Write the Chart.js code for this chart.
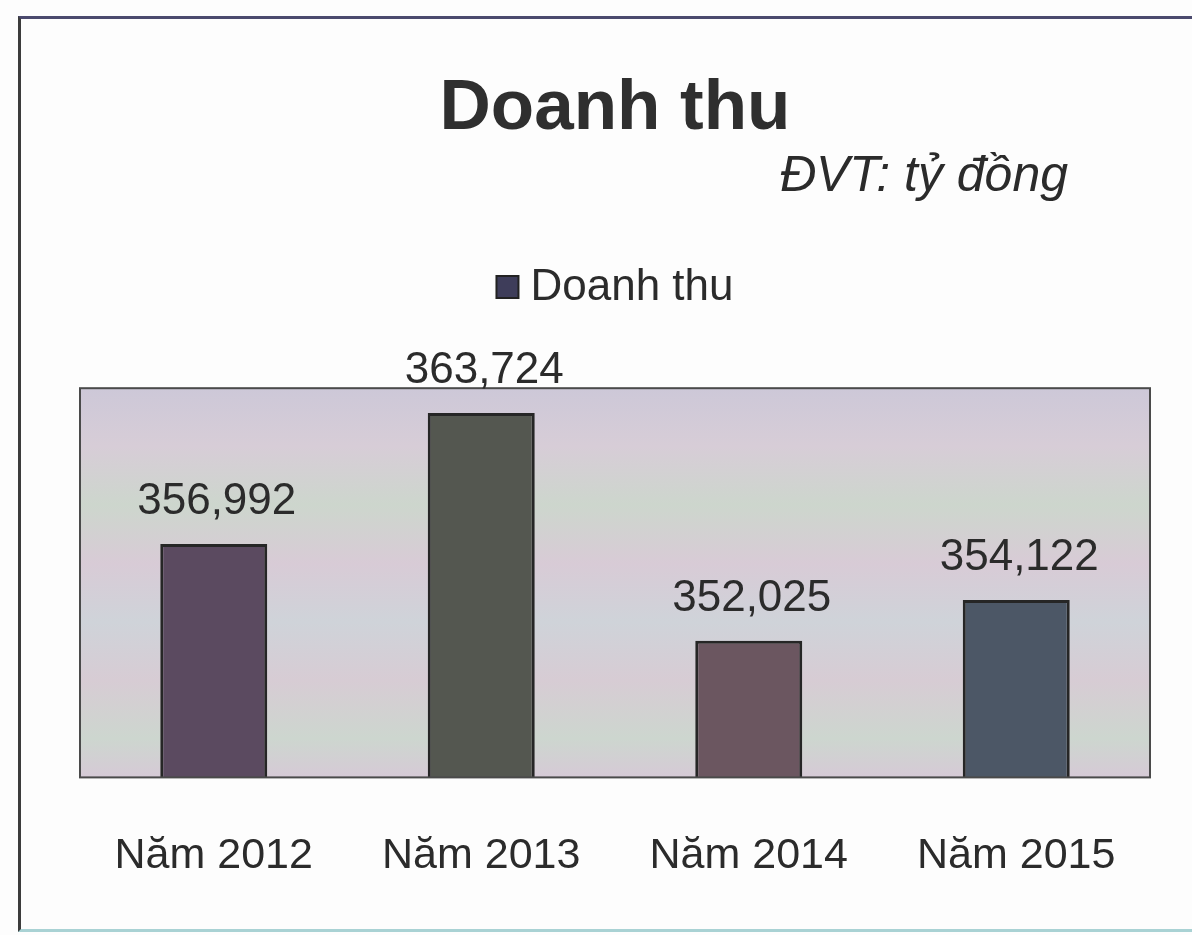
<!DOCTYPE html>
<html>
<head>
<meta charset="utf-8">
<title>Doanh thu</title>
<script src="https://cdn.jsdelivr.net/npm/chart.js@4.4.0/dist/chart.umd.min.js"></script>
<style>
    body { margin: 0; background: #fdfdfd; }
    #wrap { position: relative; width: 1192px; height: 935px; overflow: hidden; }
    #frame {
        position: absolute; left: 18px; top: 16px; width: 1200px; height: 910px;
        border-left: 3px solid #3c3c3c; border-top: 3px solid #4b4a6e; border-bottom: 3px solid #a9d2d4;
    }
    #revenueChart { position: absolute; left: 0; top: 0; }
</style>
</head>
<body>
<div id="wrap">
    <div id="frame"></div>
    <canvas id="revenueChart" width="1192" height="935"></canvas>
</div>
<script>
// data
const years = ['Năm 2012', 'Năm 2013', 'Năm 2014', 'Năm 2015'];
const revenue = [356.992, 363.724, 352.025, 354.122];
const yMin = 345;
const yMax = 365;

const fontFamily = '"Liberation Sans", Arial, sans-serif';
const textColor = '#2b2b2b';

function formatValue(v) {
    return v.toFixed(3).replace('.', ',');
}

// plot area background + frame
const plotArea = {
    id: 'plotArea',
    beforeDatasetsDraw(chart) {
        const {ctx, chartArea: a} = chart;
        const g = ctx.createLinearGradient(0, a.top, 0, a.bottom);
        g.addColorStop(0, '#cdc8d8');
        g.addColorStop(0.15, '#d7cdd7');
        g.addColorStop(0.3, '#cdd6cd');
        g.addColorStop(0.45, '#d8cbd6');
        g.addColorStop(0.6, '#cfd3d9');
        g.addColorStop(0.75, '#d7ccd4');
        g.addColorStop(0.9, '#cdd6cf');
        g.addColorStop(1, '#d6cad6');
        ctx.save();
        ctx.fillStyle = g;
        ctx.fillRect(a.left, a.top, a.width, a.height);
        ctx.restore();
    },
    afterDatasetsDraw(chart) {
        const {ctx, chartArea: a} = chart;
        ctx.save();
        ctx.strokeStyle = '#4a4a4a';
        ctx.lineWidth = 2;
        ctx.strokeRect(a.left, a.top, a.width, a.height);
        ctx.restore();
    }
};

// numbers above the bars
const valueLabels = {
    id: 'valueLabels',
    afterDatasetsDraw(chart) {
        const {ctx} = chart;
        const meta = chart.getDatasetMeta(0);
        ctx.save();
        ctx.font = '44px ' + fontFamily;
        ctx.fillStyle = textColor;
        ctx.textAlign = 'center';
        ctx.textBaseline = 'alphabetic';
        meta.data.forEach((bar, i) => {
            ctx.fillText(formatValue(revenue[i]), bar.x + 3, bar.y - 30);
        });
        ctx.restore();
    }
};

// unit note and legend
const headerExtras = {
    id: 'headerExtras',
    afterDraw(chart) {
        const {ctx, chartArea: a} = chart;
        ctx.save();
        ctx.fillStyle = textColor;
        ctx.font = 'italic 50px ' + fontFamily;
        ctx.textAlign = 'right';
        ctx.textBaseline = 'middle';
        ctx.fillText('ĐVT: tỷ đồng', a.right - 82, 177);

        ctx.font = '44px ' + fontFamily;
        const label = 'Doanh thu';
        const box = 22;
        const gap = 12;
        const w = box + gap + ctx.measureText(label).width;
        const x0 = (a.left + a.right) / 2 - w / 2;
        const y = 287;
        ctx.fillStyle = '#3e3d5a';
        ctx.fillRect(x0, y - box / 2, box, box);
        ctx.strokeStyle = '#222';
        ctx.lineWidth = 2;
        ctx.strokeRect(x0, y - box / 2, box, box);
        ctx.fillStyle = textColor;
        ctx.textAlign = 'left';
        ctx.fillText(label, x0 + box + gap, y + 1);
        ctx.restore();
    }
};

new Chart(document.getElementById('revenueChart'), {
    type: 'bar',
    data: {
        labels: years,
        datasets: [{
            label: 'Doanh thu',
            data: revenue,
            backgroundColor: ['#5b4a60', '#545750', '#6b5660', '#4c5766'],
            borderColor: '#262626',
            borderWidth: 3,
            borderSkipped: false,
            barPercentage: 0.4,
            categoryPercentage: 1
        }]
    },
    options: {
        responsive: false,
        animation: false,
        layout: {
            padding: {top: 20, left: 80, right: 42, bottom: 0}
        },
        plugins: {
            legend: {display: false},
            tooltip: {enabled: false},
            title: {
                display: true,
                text: 'Doanh thu',
                color: '#2f2f2f',
                font: {family: fontFamily, size: 71, weight: 'bold'},
                padding: {top: 47, bottom: 236}
            }
        },
        scales: {
            x: {
                grid: {display: false, drawTicks: false},
                border: {display: false},
                ticks: {
                    color: textColor,
                    font: {family: fontFamily, size: 43},
                    padding: 53,
                    maxRotation: 0,
                    autoSkip: false
                }
            },
            y: {
                display: false,
                min: yMin,
                max: yMax
            }
        }
    },
    plugins: [plotArea, valueLabels, headerExtras]
});
</script>
</body>
</html>
